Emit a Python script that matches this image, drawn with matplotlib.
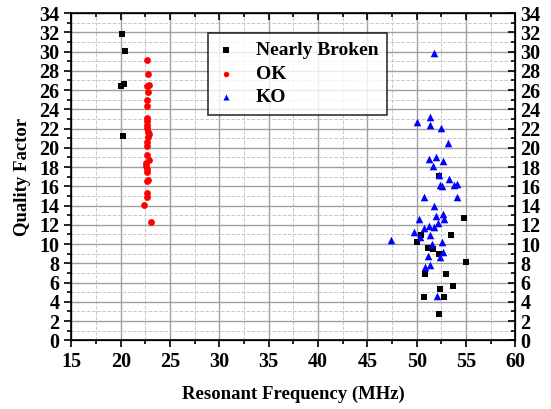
import matplotlib
matplotlib.use("Agg")
import matplotlib.pyplot as plt
from matplotlib.ticker import MultipleLocator

plt.rcParams['font.family'] = ['Liberation Serif', 'DejaVu Serif']
plt.rcParams['font.weight'] = 'bold'

# Nearly Broken
nb_freq = [20.1, 20.44, 20.37, 20.03, 20.24,
           52.3, 54.8, 50.4, 53.45, 50.0, 51.1, 51.6, 52.3, 55.03,
           50.81, 52.97, 53.65, 52.4, 50.74, 52.74, 52.26]
nb_q = [31.8, 30.06, 26.63, 26.38, 21.25,
        17.1, 12.73, 10.93, 10.97, 10.2, 9.58, 9.48, 8.96, 8.13,
        6.84, 6.88, 5.63, 5.35, 4.52, 4.52, 2.75]

# OK
ok_freq = [22.71, 22.75, 22.65, 22.9, 22.75, 22.65, 22.68, 22.65, 22.7, 22.68,
           22.72, 22.85, 22.75, 22.68, 22.66, 22.62, 22.85, 22.6, 22.66, 22.68,
           22.75, 22.65, 22.68, 22.4, 23.05, 22.62, 22.7, 22.6]
ok_q = [29.16, 27.67, 26.45, 26.5, 25.8, 24.96, 24.34, 23.13, 22.8, 22.36,
        21.67, 21.4, 21.15, 20.6, 20.18, 19.3, 18.7, 18.1, 17.8, 17.5,
        16.7, 16.5, 15.33, 14.1, 12.24, 14.9, 22.1, 18.4]

# KO
ko_freq = [51.79, 51.39, 50.07, 51.39, 52.47, 53.21, 51.96, 51.25, 52.64, 51.66,
           52.23, 53.24, 52.4, 52.53, 53.75, 54.09, 50.78, 54.09,
           51.79, 52.7, 51.96, 52.8, 50.24, 52.2, 51.25, 51.79, 50.71, 49.7,
           50.3, 47.43, 51.32, 52.57, 51.52, 52.7, 51.18, 52.36, 51.32, 50.84, 52.06]
ko_q = [29.9, 23.17, 22.69, 22.41, 22.03, 20.47, 19.08, 18.8, 18.67, 18.08,
        17.2, 16.72, 16.1, 16.03, 16.1, 16.27, 14.92, 14.85,
        13.95, 13.15, 12.91, 12.56, 12.56, 12.15, 11.87, 11.76, 11.63, 11.21,
        10.76, 10.45, 10.9, 10.2, 9.96, 9.17, 8.72, 8.61, 7.85, 7.61, 4.59]

fig = plt.figure(figsize=(5.51, 4.09), dpi=100)
ax = fig.add_axes([0.1295, 0.168, 0.806, 0.8])

ax.scatter(nb_freq, nb_q, marker='s', s=22, color='black', label='Nearly Broken', zorder=3, linewidths=0)
ax.scatter(ok_freq, ok_q, marker='o', s=24, color='red', label='OK', zorder=3, linewidths=0)
ax.scatter(ko_freq, ko_q, marker='^', s=30, color='blue', label='KO', zorder=3, linewidths=0)

ax.set_xlim(15, 60)
ax.set_ylim(0, 34)
ax.xaxis.set_major_locator(MultipleLocator(5))
ax.xaxis.set_minor_locator(MultipleLocator(2.5))
ax.yaxis.set_major_locator(MultipleLocator(2))
ax.yaxis.set_minor_locator(MultipleLocator(1))

ax.grid(which='major', color='#a0a0a0', linestyle='-', linewidth=1.0, zorder=0)
ax.grid(which='minor', color='#c8c8c8', linestyle='--', linewidth=0.7, zorder=0)
ax.set_axisbelow(True)

for s in ax.spines.values():
    s.set_linewidth(1.2)

ax.tick_params(which='both', direction='out', top=False, right=False, labelsize=14.5, width=1.2)
ax.tick_params(which='major', length=5)
ax.tick_params(which='minor', length=3)

ax2 = ax.twinx()
ax2.set_ylim(0, 34)
ax2.yaxis.set_major_locator(MultipleLocator(2))
ax2.yaxis.set_minor_locator(MultipleLocator(1))
ax2.tick_params(which='both', direction='in', labelsize=14.5, width=1.2)
ax2.tick_params(which='major', length=5)
ax2.tick_params(which='minor', length=3)

ax3 = ax.twiny()
ax3.set_xlim(15, 60)
ax3.xaxis.set_major_locator(MultipleLocator(5))
ax3.xaxis.set_minor_locator(MultipleLocator(2.5))
ax3.tick_params(which='both', direction='in', labeltop=False, width=1.2)
ax3.tick_params(which='major', length=5)
ax3.tick_params(which='minor', length=3)

for a in (ax, ax2):
    for lbl in a.get_xticklabels() + a.get_yticklabels():
        lbl.set_fontweight('bold')

ax.set_xlabel('Resonant Frequency (MHz)', fontsize=13.5, fontweight='bold', labelpad=10)
ax.set_ylabel('Quality Factor', fontsize=13.5, fontweight='bold', labelpad=6)

leg = ax.legend(loc='upper left', bbox_to_anchor=(0.3077, 0.939), borderaxespad=0,
                frameon=True, fancybox=False, edgecolor='black', markerscale=0.8,
                handlelength=1.0, handletextpad=1.0, borderpad=0.45, labelspacing=0.3,
                prop={'weight': 'bold', 'size': 14})
leg.get_frame().set_linewidth(1.2)
leg.set_zorder(5)

fig.savefig('out.png', dpi=100)
